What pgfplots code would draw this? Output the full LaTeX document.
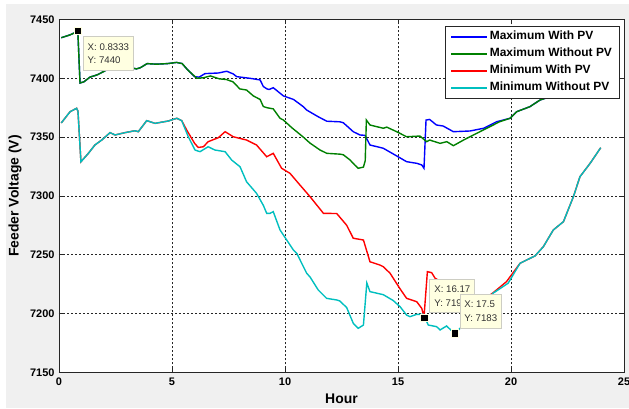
\documentclass[border=0pt]{standalone}
\usepackage{pgfplots}
\pgfplotsset{compat=1.18}
\usepackage{fontspec}
\setmainfont{Liberation Sans}
\definecolor{figbg}{RGB}{240,240,240}
\definecolor{mblue}{RGB}{0,0,255}
\definecolor{mgreen}{RGB}{0,128,0}
\definecolor{mred}{RGB}{255,0,0}
\definecolor{mcyan}{RGB}{0,191,191}
\definecolor{tipbg}{RGB}{255,255,225}
\definecolor{tipborder}{RGB}{205,205,195}
\definecolor{tiptext}{RGB}{50,50,50}
\begin{document}
\begin{tikzpicture}[x=1bp,y=1bp]
\useasboundingbox (-59,-35.7) rectangle (570,372.3);
\fill[white] (-59,-35.7) rectangle (570,372.3);
\fill[figbg] (-53,-35.7) rectangle (570,368.3);
\begin{axis}[
  at={(0,0)}, anchor=south west,
  scale only axis, width=565bp, height=352.8bp,
  xmin=0, xmax=25, ymin=7150, ymax=7450,
  xtick={0,5,...,25}, ytick={7150,7200,...,7450},
  axis background/.style={fill=white},
  grid=major,
  grid style={black!85, line width=0.6bp, dash pattern=on 2bp off 2bp},
  axis line style={black!85, line width=0.8bp},
  tick align=inside, major tick length=5bp,
  tick style={black!85, line width=0.6bp},
  /pgf/number format/assume math mode=true,
  /pgf/number format/1000 sep={},
  ticklabel style={font=\bfseries\fontsize{11}{13}\selectfont, text=black},
  xticklabel style={yshift=-2.3bp},
  yticklabel style={xshift=-1bp},
  xlabel={Hour}, ylabel={Feeder Voltage (V)},
  label style={font=\bfseries\fontsize{14}{16}\selectfont},
  xlabel style={at={(axis description cs:0.5,-0.0737)}, anchor=center},
  ylabel style={at={(axis description cs:-0.0779,0.5)}, anchor=center},
  legend style={at={(rel axis cs:0.9917,0.9816)}, anchor=north east,
    draw=black!85, line width=0.7bp, fill=white,
    font=\bfseries\fontsize{12}{14}\selectfont,
    inner xsep=5bp, inner ysep=2bp, row sep=0pt,
    nodes={inner xsep=2bp, inner ysep=2.5bp, text height=9bp, text depth=3bp}},
  legend cell align=left,
  legend image code/.code={\draw[#1, line width=1.5bp] (0bp,0bp) -- (36bp,0bp);},
  every axis plot/.append style={line width=1.4bp},
]
% Maximum With PV
\addplot[mblue] coordinates {
(0.1,7434.5)(0.5,7437)(0.8333,7440)(0.93,7396)(1.1,7397)(1.37,7401)(1.7,7403)(2.1,7407)(2.5,7408)(3.0,7408.5)(3.3,7408.5)(3.43,7408)(3.6,7409)(3.9,7412.5)(4.3,7412)(4.8,7412.5)(5.2,7413.5)(5.45,7412.5)(5.7,7407)
(6.0,7401.4)(6.2,7401)(6.46,7404)(7.05,7404.5)(7.42,7406)(7.71,7403.7)(7.86,7401.4)(8.45,7400)(8.9,7398.6)(9.04,7393)(9.2,7391)(9.3,7390.5)(9.48,7392)(9.93,7385)(10.38,7382)(10.8,7376)(10.96,7373)(11.47,7367.3)(11.85,7363.5)(12.43,7363)(12.58,7362.2)(13.02,7354.6)(13.17,7353.2)(13.32,7351.8)(13.54,7351.5)(13.76,7343.3)(14.35,7340.5)(14.94,7334)(15.38,7329.1)(15.83,7327.7)(16.05,7326.3)(16.15,7323.5)(16.24,7364.5)(16.4,7365)(16.7,7360.3)(17.0,7359.4)(17.45,7354.6)(18.19,7355.2)(18.79,7357.5)(19.37,7363.1)(19.96,7366)
(20.25,7371.6)(20.84,7375.9)(21.28,7381.5)(21.73,7384.4)(22.3,7392)(22.8,7398)(23.3,7403)(23.9,7408)
};
\addlegendentry{Maximum With PV}
% Maximum Without PV
\addplot[mgreen] coordinates {
(0.1,7434.5)(0.5,7437)(0.8333,7440)(0.93,7396)(1.1,7397)(1.37,7401)(1.7,7403)(2.1,7407)(2.5,7408)(3.0,7408.5)(3.3,7408.5)(3.43,7408)(3.6,7409)(3.9,7412.5)(4.3,7412)(4.8,7412.5)(5.2,7413.5)(5.45,7412.5)(5.7,7407)
(6.1,7400)(6.4,7400.5)(6.7,7402)(7.1,7399.5)(7.4,7399)(7.7,7397)(8.0,7391)(8.3,7390)(8.6,7385)(8.9,7382)(9.04,7376)(9.2,7375)(9.48,7374)(9.78,7366)(9.93,7364.5)(10.3,7358)(10.81,7350)(11.1,7345)(11.55,7339)(11.85,7336.2)(12.43,7335.5)(12.58,7335)(12.88,7330.5)(13.1,7326)(13.24,7323.5)(13.47,7324.5)(13.55,7330)(13.6,7364.5)(13.76,7360.3)(14.35,7357.5)(14.5,7358.5)(14.94,7354.6)(15.38,7350.3)(15.97,7350.9)(16.27,7346.1)(16.4,7347.5)(16.86,7344.7)(17.16,7346.1)(17.45,7342.7)(17.9,7347.5)(18.48,7353.2)(19.07,7358.9)(19.5,7363.1)(19.96,7366)
(20.25,7371.6)(20.84,7375.9)(21.28,7381.5)(21.73,7384.4)(22.3,7392)(22.8,7398)(23.3,7403)(23.9,7408)
};
\addlegendentry{Maximum Without PV}
% Minimum With PV
\addplot[mred] coordinates {
(0.1,7362)(0.49,7371.6)(0.78,7374.5)(0.84,7372)(0.97,7329)(1.3,7336.2)(1.59,7343.3)(1.89,7347.5)(2.26,7353.8)(2.48,7351.8)(2.92,7353.8)(3.36,7355.4)(3.51,7354.6)(3.88,7364)(4.25,7361.7)(4.84,7363.7)(5.21,7366)(5.43,7364)
(5.65,7356)(6.0,7344.7)(6.16,7341.2)(6.39,7341.8)(6.6,7346.1)(7.05,7349.5)(7.35,7354.6)(7.71,7350.3)(8.3,7347.5)(8.74,7343.3)(9.19,7333.3)(9.48,7336.2)(9.85,7323.5)(10.22,7319.2)(10.66,7309.3)(11.11,7299.3)(11.7,7285.2)(12.29,7285)(12.73,7275)(13.02,7264)(13.47,7262.5)(13.76,7244)(14.2,7241.2)(14.35,7239.8)(14.65,7234.2)(15.09,7221)(15.38,7212.9)(15.83,7210)(16.05,7204.4)(16.15,7197)(16.3,7235.6)(16.49,7234.7)(16.64,7230)(17.0,7226)(17.5,7219)(18.0,7212)(18.5,7208)(19.07,7215.7)(19.2,7217.5)(19.8,7227.1)
(20.4,7242.7)(20.84,7246.9)(21.06,7248.9)(21.43,7256.8)(21.87,7271)(22.32,7278.1)(22.76,7299.3)(23.05,7316.3)(23.5,7327.7)(23.97,7341)
};
\addlegendentry{Minimum With PV}
% Minimum Without PV
\addplot[mcyan] coordinates {
(0.1,7362)(0.49,7371.6)(0.78,7374.5)(0.84,7372)(0.97,7329)(1.3,7336.2)(1.59,7343.3)(1.89,7347.5)(2.26,7353.8)(2.48,7351.8)(2.92,7353.8)(3.36,7355.4)(3.51,7354.6)(3.88,7364)(4.25,7361.7)(4.84,7363.7)(5.21,7366)(5.43,7364)
(5.72,7350.3)(6.02,7339)(6.24,7337.6)(6.6,7341.8)(6.9,7339)(7.35,7337.6)(7.64,7330.5)(8.01,7324.8)(8.3,7312)(8.74,7302.2)(9.04,7292)(9.19,7285.2)(9.34,7285.2)(9.48,7286.6)(9.78,7271)(10.37,7254)(10.52,7251.2)(10.96,7234.2)(11.11,7231)(11.47,7220)(11.84,7212.9)(12.29,7211.5)(12.43,7210.6)(12.73,7205)(13.02,7191.7)(13.24,7187.4)(13.47,7190.2)(13.62,7226)(13.76,7218.6)(14.35,7216)(14.79,7211)(15.09,7205.8)(15.38,7198.7)(15.53,7197.3)(15.83,7199.3)(16.12,7199.3)(16.34,7190.2)(16.71,7188.8)(16.86,7186)(17.15,7189.4)(17.5,7183)(18.0,7192)(18.5,7202)(19.0,7212)(19.2,7217.2)(19.87,7225.7)
(20.4,7242.7)(20.84,7246.9)(21.06,7248.9)(21.43,7256.8)(21.87,7271)(22.32,7278.1)(22.76,7299.3)(23.05,7316.3)(23.5,7327.7)(23.97,7341)
};
\addlegendentry{Minimum Without PV}
% data tips
\addplot[only marks, mark=square*, mark size=3.6bp, forget plot,
  mark options={fill=black, draw=tipbg, line width=0.8bp}]
  coordinates {(0.8333,7440)(16.17,7196)(17.5,7183)};
\node[draw=tipborder, fill=tipbg, text=tiptext, align=left, anchor=north west,
  font=\fontsize{9.7}{14}\selectfont, inner xsep=4.5bp, inner ysep=0bp,
  minimum height=34bp, xshift=5bp, yshift=-5bp, line width=0.8bp]
  at (axis cs:0.8333,7440) {X: 0.8333\\Y: 7440};
\node[draw=tipborder, fill=tipbg, text=tiptext, align=left, anchor=south west,
  font=\fontsize{9.7}{14}\selectfont, inner xsep=4.5bp, inner ysep=0bp,
  minimum height=33bp, xshift=5bp, yshift=5bp, line width=0.8bp]
  at (axis cs:16.17,7196) {X: 16.17\\Y: 7196};
\node[draw=tipborder, fill=tipbg, text=tiptext, align=left, anchor=south west,
  font=\fontsize{9.7}{14}\selectfont, inner xsep=4.5bp, inner ysep=0bp,
  minimum height=34bp, xshift=5bp, yshift=4.5bp, line width=0.8bp]
  at (axis cs:17.5,7183) {X: 17.5\\Y: 7183};
\end{axis}
\end{tikzpicture}
\end{document}
